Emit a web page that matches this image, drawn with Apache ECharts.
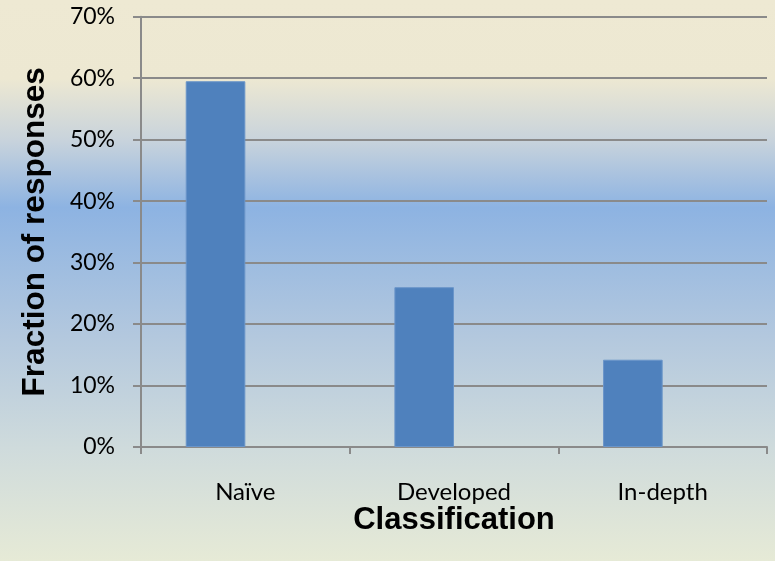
<!DOCTYPE html>
<html>
<head>
<meta charset="utf-8">
<script src="https://cdn.jsdelivr.net/npm/echarts@6/dist/echarts.min.js"></script>
<style>
  html, body { margin: 0; padding: 0; }
  #chart { width: 775px; height: 561px; }
</style>
</head>
<body>
<div id="chart"></div>
<script>
// Response classification shares (percent)
const categories = ['Naïve', 'Developed', 'In-depth'];
const fractionValues = [59.5, 26.0, 14.2];
const emptySeries = [null, null, null];
const yTicks = { min: 0, max: 70, interval: 10 };

const chart = echarts.init(document.getElementById('chart'), null, { renderer: 'canvas' });

const gridGray = '#8a8a8a';
const labelFont = 'Lato, "Open Sans", sans-serif';
const titleFont = '"Liberation Sans", Arial, sans-serif';

chart.setOption({
  animation: false,
  backgroundColor: {
    type: 'linear', x: 0, y: 0, x2: 0, y2: 1,
    colorStops: [
      { offset: 0.00, color: '#eee9d3' },
      { offset: 0.14, color: '#ede8d2' },
      { offset: 0.25, color: '#c8d3dc' },
      { offset: 0.37, color: '#8db3e2' },
      { offset: 0.60, color: '#b3c8de' },
      { offset: 0.80, color: '#cfdbdc' },
      { offset: 1.00, color: '#e6ead6' }
    ]
  },
  grid: { left: 141, right: 8, top: 16.7, bottom: 114, containLabel: false },
  xAxis: {
    type: 'category',
    data: categories,
    name: 'Classification',
    nameLocation: 'middle',
    nameGap: 58,
    nameMoveOverlap: false,
    nameTextStyle: { fontFamily: titleFont, fontWeight: 'bold', fontSize: 31, color: '#000' },
    axisLine: { show: true, lineStyle: { color: gridGray, width: 2 } },
    axisTick: { show: true, alignWithLabel: false, length: 7, lineStyle: { color: gridGray, width: 2 } },
    axisLabel: { margin: 33, fontFamily: labelFont, fontSize: 24, color: '#000' },
    splitLine: { show: false }
  },
  yAxis: {
    type: 'value',
    min: yTicks.min,
    max: yTicks.max,
    interval: yTicks.interval,
    name: 'Fraction of responses',
    nameLocation: 'middle',
    nameGap: 90,
    nameMoveOverlap: false,
    nameRotate: 90,
    nameTextStyle: { fontFamily: titleFont, fontWeight: 'bold', fontSize: 31.5, color: '#000' },
    axisLine: { show: true, lineStyle: { color: gridGray, width: 2 } },
    axisTick: { show: true, length: 8, lineStyle: { color: gridGray, width: 2 } },
    axisLabel: {
      margin: 26,
      fontFamily: labelFont,
      fontSize: 23,
      color: '#000',
      formatter: v => v + '%'
    },
    splitLine: { show: true, lineStyle: { color: gridGray, width: 2 } }
  },
  series: [
    {
      type: 'bar',
      data: fractionValues,
      barWidth: 59.6,
      barGap: '0%',
      itemStyle: { color: '#4f81bd', borderColor: '#6a95c9', borderWidth: 1 }
    },
    {
      type: 'bar',
      data: emptySeries,
      barWidth: 59.6,
      barGap: '0%',
      itemStyle: { color: '#c0504d' }
    }
  ]
});
</script>
</body>
</html>
